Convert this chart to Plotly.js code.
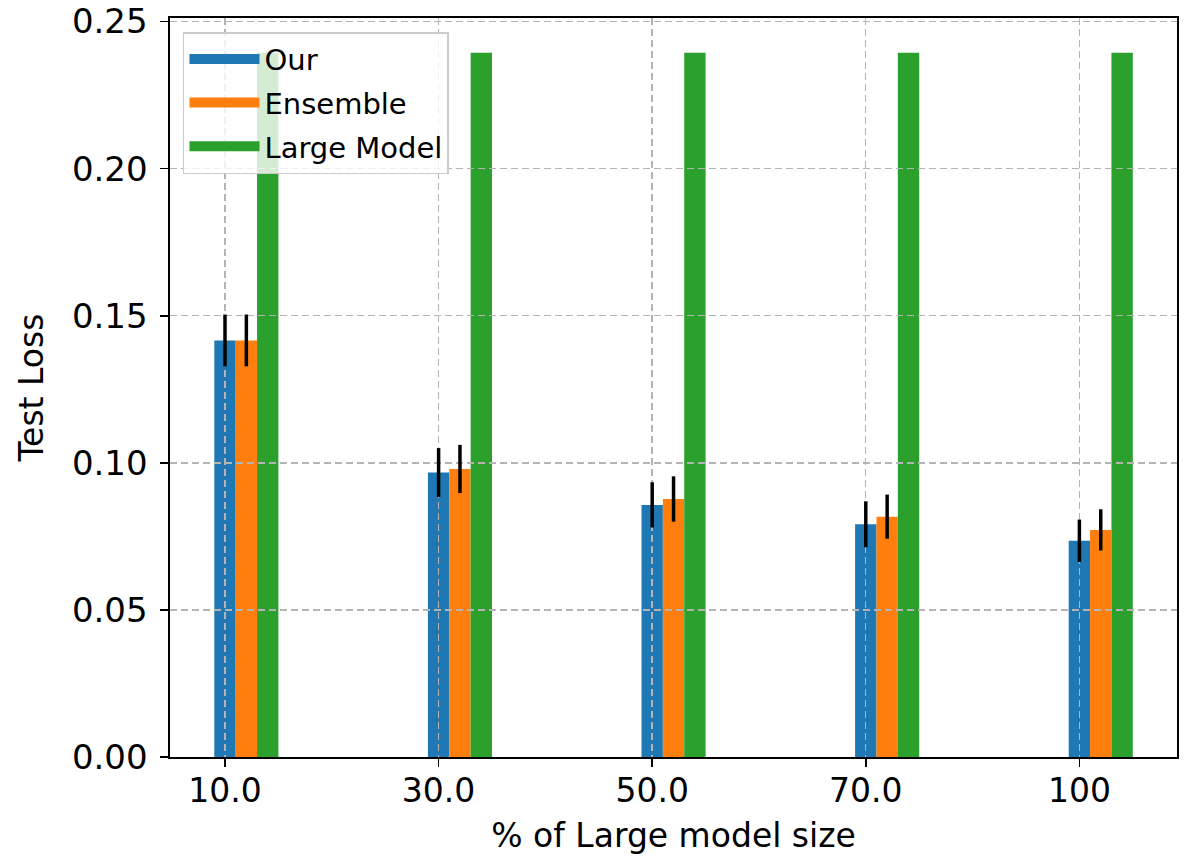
<!DOCTYPE html>
<html>
<head>
<meta charset="utf-8">
<script src="https://cdn.plot.ly/plotly-3.0.1.min.js"></script>
<style>html,body{margin:0;padding:0;background:#fff;}#chart{width:1185px;height:858px;}</style>
</head>
<body>
<div id="chart"></div>
<script>
const sizes = ['10.0', '30.0', '50.0', '70.0', '100'];
const ourLoss = [0.1416, 0.0967, 0.0857, 0.0791, 0.0735];
const ourErr = [0.0088, 0.0083, 0.0077, 0.0078, 0.0072];
const ensembleLoss = [0.1416, 0.0979, 0.0877, 0.0817, 0.0772];
const ensembleErr = [0.0088, 0.0082, 0.0077, 0.0075, 0.0070];
const largeLoss = [0.2394, 0.2394, 0.2394, 0.2394, 0.2394];
const seriesNames = ['Our', 'Ensemble', 'Large Model'];
const colors = ['#1f77b4', '#ff7f0e', '#2ca02c'];

const FONT = 'DejaVu Sans, Liberation Sans, sans-serif';
const barW = 0.1;
const series = [
  {name: seriesNames[0], y: ourLoss, err: ourErr, off: -0.05},
  {name: seriesNames[1], y: ensembleLoss, err: ensembleErr, off: 0.05},
  {name: seriesNames[2], y: largeLoss, err: null, off: 0.15}
];

const traces = [];
// bars (lower subplot, below grid)
series.forEach((s, i) => {
  traces.push({
    type: 'bar', x: sizes, y: s.y, width: barW, offset: s.off,
    marker: {color: colors[i], line: {width: 0}},
    name: s.name, showlegend: false, xaxis: 'x', yaxis: 'y', hoverinfo: 'skip'
  });
});
// error bars (upper subplot, above grid)
series.forEach((s, i) => {
  if (!s.err) return;
  traces.push({
    type: 'bar', x: sizes, y: s.y, width: barW, offset: s.off,
    marker: {color: 'rgba(0,0,0,0)', line: {width: 0}},
    error_y: {type: 'data', array: s.err, visible: true, color: '#000', thickness: 3.5, width: 0},
    showlegend: false, xaxis: 'x2', yaxis: 'y2', hoverinfo: 'skip'
  });
});
// legend entries
series.forEach((s, i) => {
  traces.push({
    type: 'scatter', mode: 'lines', x: [null], y: [null],
    line: {color: colors[i], width: 20}, name: s.name, showlegend: true,
    legendgroup: 'g' + i,
    xaxis: 'x', yaxis: 'y', hoverinfo: 'skip'
  });
});

const xr = [-0.2575, 4.457];
const yr = [0, 0.2512];
const gridCommon = {
  showgrid: true, gridcolor: '#b4b4b4', gridwidth: 1.4, griddash: '7px,4px',
  showticklabels: false, ticks: '', showline: false, zeroline: false
};

const layout = {
  width: 1185, height: 858,
  margin: {l: 170, r: 8, t: 18, b: 101, pad: 0},
  paper_bgcolor: '#fff', plot_bgcolor: 'rgba(0,0,0,0)',
  font: {family: FONT, color: '#000', size: 30},
  barmode: 'overlay',
  showlegend: true,
  legend: {
    x: 0.0129, y: 0.981, xanchor: 'left', yanchor: 'top',
    bgcolor: 'rgba(255,255,255,0.8)', bordercolor: '#cccccc', borderwidth: 1.5,
    font: {family: FONT, size: 29, color: '#000'},
    itemwidth: 70, tracegroupgap: 3, traceorder: 'grouped'
  },
  xaxis: {
    type: 'category', range: xr, domain: [0, 1], anchor: 'y',
    showline: true, mirror: true, linecolor: '#000', linewidth: 1.6,
    ticks: 'outside', ticklen: 8, tickwidth: 1.6, tickcolor: '#000',
    tickfont: {family: FONT, size: 33, color: '#000'}, ticklabelstandoff: -4,
    showgrid: false, zeroline: false,
    title: {text: '% of Large model size', font: {family: FONT, size: 33, color: '#000'}, standoff: 14}
  },
  yaxis: {
    range: yr, domain: [0, 1], anchor: 'x',
    showline: true, mirror: true, linecolor: '#000', linewidth: 1.6,
    ticks: 'outside', ticklen: 8, tickwidth: 1.6, tickcolor: '#000',
    tickfont: {family: FONT, size: 34, color: '#000'}, ticklabelstandoff: 6,
    dtick: 0.05, tick0: 0, tickformat: '.2f',
    showgrid: false, zeroline: false,
    title: {text: 'Test Loss', font: {family: FONT, size: 33, color: '#000'}, standoff: 18}
  },
  xaxis2: Object.assign({type: 'category', matches: 'x', anchor: 'y2', domain: [0, 1]}, gridCommon),
  yaxis2: Object.assign({matches: 'y', anchor: 'x2', domain: [0, 1]}, gridCommon, {dtick: 0.05, tick0: 0})
};

Plotly.newPlot('chart', traces, layout, {staticPlot: true, displayModeBar: false});
</script>
</body>
</html>
